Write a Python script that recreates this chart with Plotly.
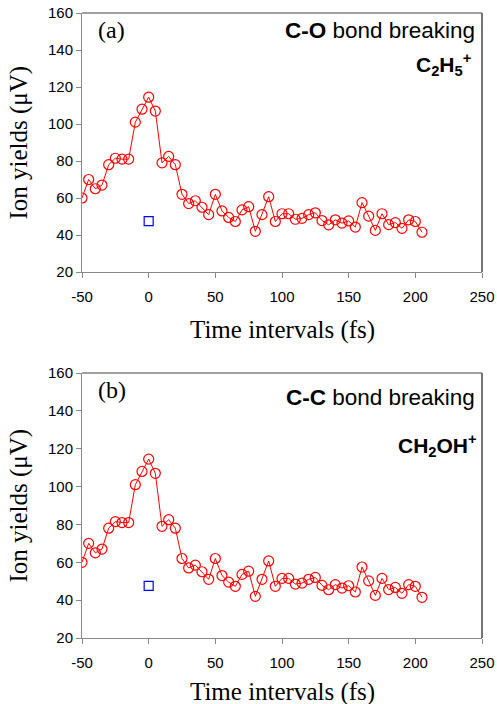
import plotly.graph_objects as go

time_fs = [-50, -45, -40, -35, -30, -25, -20, -15, -10, -5, 0, 5, 10, 15, 20, 25, 30, 35, 40, 45,
           50, 55, 60, 65, 70, 75, 80, 85, 90, 95, 100, 105, 110, 115, 120, 125, 130, 135, 140, 145,
           150, 155, 160, 165, 170, 175, 180, 185, 190, 195, 200, 205]
yield_a = [60, 70, 65, 67, 78, 81.5, 81, 81, 101, 108, 114.5, 107, 79, 82.5, 78, 62, 57, 58.5, 55, 51,
           62, 53, 49.5, 47.3, 53.6, 55.3, 42, 51, 60.7, 47.3, 51.5, 51.5, 48.5, 49, 51, 52,
           47.8, 45.5, 48.2, 46.4, 47.6, 44.3, 57.5, 50.2, 42.5, 51.5, 45.6, 46.7, 43.6, 48.2, 47.3, 41.5]
yield_b = list(yield_a)
ref_time = [0]
ref_yield = [47.5]

x_ticks = [-50, 0, 50, 100, 150, 200, 250]
x_ticktext = ["-50", "0", "50", "100", "150", "200", "250"]
y_ticks = [20, 40, 60, 80, 100, 120, 140, 160]

fig = go.Figure()
for i, ys in enumerate([yield_a, yield_b]):
    ax = "" if i == 0 else "2"
    fig.add_trace(go.Scatter(x=time_fs, y=ys, mode="lines+markers",
                             line=dict(color="#ff0000", width=1),
                             marker=dict(symbol="circle-open", size=10, color="#ff0000",
                                         line=dict(width=1.2, color="#ff0000")),
                             xaxis="x" + ax, yaxis="y" + ax, showlegend=False))
    fig.add_trace(go.Scatter(x=ref_time, y=ref_yield, mode="markers",
                             marker=dict(symbol="square-open", size=9, color="#0000ff",
                                         line=dict(width=1.2, color="#0000ff")),
                             xaxis="x" + ax, yaxis="y" + ax, showlegend=False))

tickfont = dict(family="Liberation Sans, Arial", size=15, color="#000000")
axis_common = dict(showgrid=False, zeroline=False, showline=True, linecolor="#888888", linewidth=1,
                   ticks="outside", ticklen=5, tickcolor="#888888", tickfont=tickfont,
                   automargin=False)

fig.update_layout(
    width=497, height=704,
    margin=dict(l=82, r=15, t=13, b=66),
    paper_bgcolor="white", plot_bgcolor="white",
    xaxis=dict(axis_common, range=[-50, 250], tickvals=x_ticks, ticktext=x_ticktext, anchor="y",
               ticklabelstandoff=6),
    yaxis=dict(axis_common, range=[20, 160], tickvals=y_ticks, domain=[0.5856, 1.0], anchor="x"),
    xaxis2=dict(axis_common, range=[-50, 250], tickvals=x_ticks, ticktext=x_ticktext, anchor="y2",
                ticklabelstandoff=6),
    yaxis2=dict(axis_common, range=[20, 160], tickvals=y_ticks, domain=[0.0, 0.424], anchor="x2"),
)

# top and right frame lines (darker)
for xr, yr in [("x domain", "y domain"), ("x2 domain", "y2 domain")]:
    fig.add_shape(type="line", xref=xr, yref=yr, x0=0, x1=1, y0=1, y1=1,
                  line=dict(color="#444444", width=1))
    fig.add_shape(type="line", xref=xr, yref=yr, x0=1, x1=1, y0=0, y1=1,
                  line=dict(color="#444444", width=1.5))

xtitlefont = dict(family="Liberation Serif, Times New Roman", size=25, color="#000000")
ytitlefont = dict(family="Liberation Serif, Times New Roman", size=25, color="#000000")
serif = dict(family="Liberation Serif, Times New Roman", size=24, color="#000000")
sans = dict(family="Liberation Sans, Arial", size=22.5, color="#000000")
sans_ion = dict(family="Liberation Sans, Arial", size=21, color="#000000")
for xr, yr, lab, bond, bond_y, ion, ion_x, ion_y, xt_shift in [
        ("x domain", "y domain", "(a)", "<b>C-O</b> bond breaking", 0.934,
         "<b>C<sub>2</sub>H<sub>5</sub><sup>+</sup></b>", 0.977, 0.80, -58),
        ("x2 domain", "y2 domain", "(b)", "<b>C-C</b> bond breaking", 0.906,
         "<b>CH<sub>2</sub>OH<sup>+</sup></b>", 0.993, 0.725, -54)]:
    fig.add_annotation(xref=xr, yref=yr, x=0.035, y=0.934, text=lab, showarrow=False,
                       xanchor="left", yanchor="middle", font=serif)
    fig.add_annotation(xref=xr, yref=yr, x=0.987, y=bond_y, text=bond,
                       showarrow=False, xanchor="right", yanchor="middle", font=sans)
    fig.add_annotation(xref=xr, yref=yr, x=ion_x, y=ion_y, text=ion, showarrow=False,
                       xanchor="right", yanchor="middle", font=sans_ion)
    # axis titles
    fig.add_annotation(xref=xr, yref=yr, x=0.5, y=0, yshift=xt_shift, text="Time intervals (fs)",
                       showarrow=False, xanchor="center", yanchor="middle", font=xtitlefont)
    fig.add_annotation(xref=xr, yref=yr, x=0, y=0.5, xshift=-64, text="Ion yields (μV)",
                       textangle=-90, showarrow=False, xanchor="center", yanchor="middle",
                       font=ytitlefont)

fig.write_html("out.html", config={"displayModeBar": False},
               post_script="document.body.style.margin='0';document.body.style.overflow='hidden';")
